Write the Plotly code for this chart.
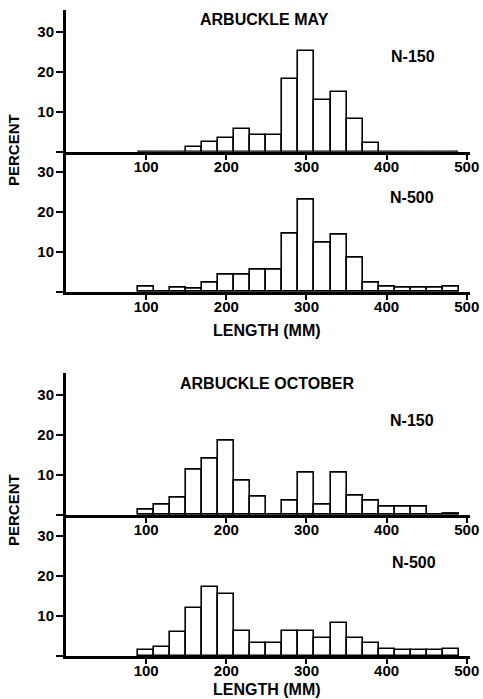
import plotly.graph_objects as go

# length classes (mm), 20 mm bins centred on these values
bins = [100, 120, 140, 160, 180, 200, 220, 240, 260, 280, 300, 320, 340, 360, 380, 400, 420, 440, 460, 480]

# percent in each length class
may_150 = [0, 0, 0, 1.3, 2.4, 3.5, 5.6, 4.3, 4.3, 18.3, 25.3, 13.0, 15.0, 8.2, 2.1, 0, 0, 0, 0, 0]
may_500 = [1.3, 0, 1.1, 0.8, 2.3, 4.3, 4.3, 5.6, 5.6, 14.6, 23.0, 12.4, 14.4, 8.7, 2.3, 1.3, 1.0, 1.0, 1.2, 1.4]
oct_150 = [1.4, 2.7, 4.4, 11.3, 14.0, 18.5, 8.7, 4.6, 0, 3.5, 10.7, 2.7, 10.7, 4.9, 3.7, 2.0, 2.0, 2.0, 0, 0.4]
oct_500 = [1.4, 2.3, 6.1, 12.1, 17.3, 15.4, 6.3, 3.3, 3.3, 6.3, 6.3, 4.5, 8.3, 4.6, 3.3, 1.7, 1.5, 1.5, 1.5, 1.7]

panels = [may_150, may_500, oct_150, oct_500]

W, H = 483, 699
ML, MR = 66, 13
FONT = "Liberation Sans"

# pixel top / bottom of each panel
panel_px = [(10, 151.7), (151.7, 292), (372.7, 515), (515, 656)]

fig = go.Figure()
layout = dict(
    width=W, height=H,
    margin=dict(l=ML, r=MR, t=0, b=0),
    paper_bgcolor="white", plot_bgcolor="white",
    showlegend=False, bargap=0,
    font=dict(family=FONT, size=14, color="black", weight="bold"),
)

for i, (vals, (top, bot)) in enumerate(zip(panels, panel_px)):
    n = i + 1
    xa = "x" if n == 1 else f"x{n}"
    ya = "y" if n == 1 else f"y{n}"
    fig.add_trace(go.Bar(
        x=bins, y=vals, width=20, xaxis=xa, yaxis=ya,
        marker=dict(color="white", line=dict(color="black", width=1.6)),
    ))
    layout["xaxis" if n == 1 else f"xaxis{n}"] = dict(
        domain=[0, 1], range=[0, 504], anchor=ya,
        tickvals=[100, 200, 300, 400, 500],
        ticks="outside", ticklen=5, tickwidth=1.5, tickcolor="black",
        ticklabelstandoff=-6,
        showline=True, linewidth=3, linecolor="black",
        showgrid=False, zeroline=False, automargin=False,
        tickfont=dict(size=15, family=FONT, weight="bold"),
    )
    layout["yaxis" if n == 1 else f"yaxis{n}"] = dict(
        domain=[1 - bot / H, 1 - top / H], range=[0, (bot - top) / 4.0], anchor=xa,
        tickvals=[0, 10, 20, 30], ticktext=["", "10", "20", "30"],
        ticks="outside", ticklen=7, tickwidth=1.5, tickcolor="black",
        ticklabelstandoff=-1,
        showline=True, linewidth=3, linecolor="black",
        showgrid=False, zeroline=False, automargin=False,
        tickfont=dict(size=15, family=FONT, weight="bold"),
    )

fig.update_layout(**layout)


def px_x(p):
    return (p - ML) / (W - ML - MR)


def px_y(p):
    return 1 - p / H


labels = [
    ("ARBUCKLE MAY", 264, 20),
    ("N-150", 413, 57),
    ("N-500", 412, 197),
    ("LENGTH (MM)", 267, 330),
    ("ARBUCKLE OCTOBER", 267, 383),
    ("N-150", 412, 420),
    ("N-500", 414, 562),
    ("LENGTH (MM)", 267, 689),
]
for txt, x, y in labels:
    fig.add_annotation(text=txt, x=px_x(x), y=px_y(y), xref="paper", yref="paper",
                       showarrow=False, xanchor="center", yanchor="middle",
                       font=dict(size=16, family=FONT, weight="bold"))

for y in (150, 510):
    fig.add_annotation(text="PERCENT", x=px_x(13), y=px_y(y), xref="paper", yref="paper",
                       showarrow=False, textangle=-90, xanchor="center", yanchor="middle",
                       font=dict(size=15, family=FONT, weight="bold"))

# the page's default body margin would shift the figure by 8 px
fig.write_html("out.html", config={"displayModeBar": False},
               post_script="document.body.style.margin='0px';")
